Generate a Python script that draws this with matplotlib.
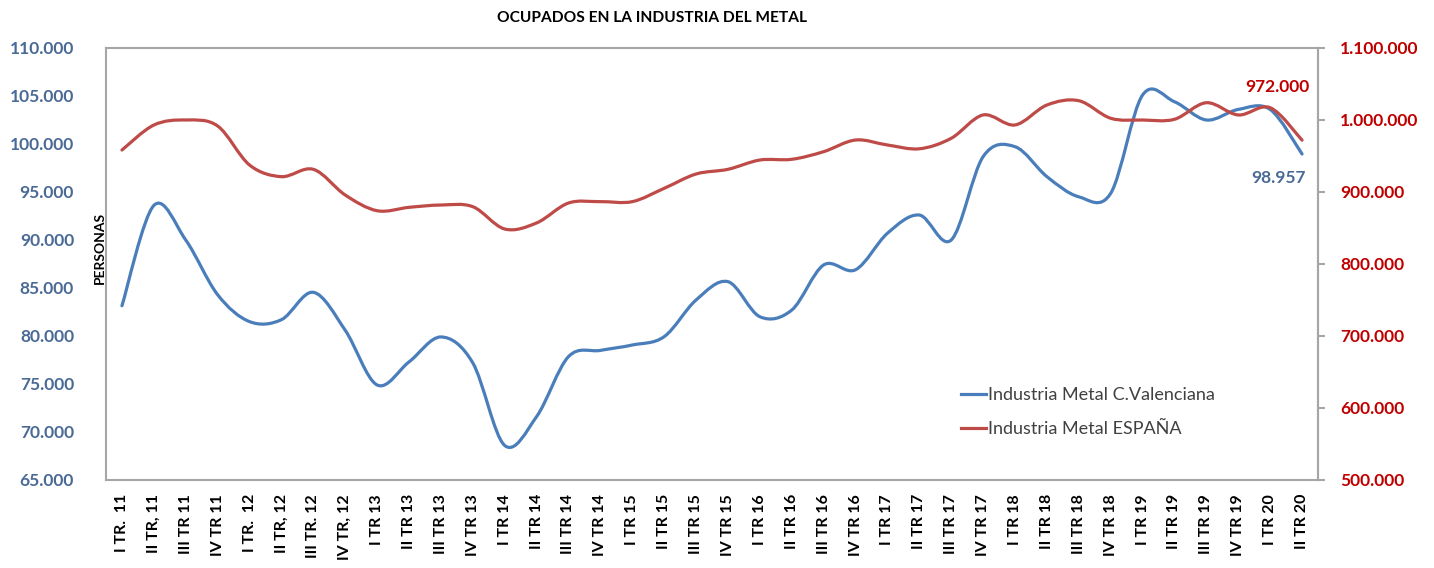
# plot.py
# Ocupados en la industria del metal: C. Valenciana (eje izq.) vs España (eje der.)

import matplotlib
matplotlib.use('Agg')
import matplotlib.pyplot as plt
from matplotlib.path import Path
from matplotlib.patches import PathPatch
from matplotlib.lines import Line2D
from matplotlib.ticker import FuncFormatter, MultipleLocator

plt.rcParams['font.family'] = ['Lato', 'DejaVu Sans']

# -----------------datos
trimestres = [
    'I TR.  11', 'II TR, 11', 'III TR 11', 'IV TR 11',
    'I TR.  12', 'II TR, 12', 'III TR. 12', 'IV TR, 12',
    'I TR 13', 'II TR 13', 'III TR 13', 'IV TR 13',
    'I TR 14', 'II TR 14', 'III TR 14', 'IV TR 14',
    'I TR 15', 'II TR 15', 'III TR 15', 'IV TR 15',
    'I TR 16', 'II TR 16', 'III TR 16', 'IV TR 16',
    'I TR 17', 'II TR 17', 'III TR 17', 'IV TR 17',
    'I TR 18', 'II TR 18', 'III TR 18', 'IV TR 18',
    'I TR 19', 'II TR 19', 'III TR 19', 'IV TR 19',
    'I TR 20', 'II TR 20',
]

valenciana = [
    83150, 93600, 90000, 84300, 81500, 81700, 84550, 80600,
    74900, 77300, 79900, 77200, 68600, 71600, 77850, 78500,
    79060, 79930, 83750, 85660, 82010, 82700, 87400, 86900,
    90700, 92600, 90000, 98680, 99720, 96600, 94500, 94860,
    105100, 104400, 102500, 103600, 103600, 98957,
]

espana = [
    958300, 993000, 1000000, 991700, 937500, 921300, 931500, 895800,
    874000, 878700, 881900, 879600, 848600, 857000, 884700, 886600,
    886600, 905100, 925000, 931500, 944400, 945400, 956000, 972200,
    965300, 960000, 974600, 1007000, 993100, 1020800, 1026800, 1002400,
    1000000, 1001000, 1024000, 1007000, 1017100, 972000,
]

AZUL = '#4A7EBB'
ROJO = '#BE4B48'
AZUL_TXT = '#4A6A96'
ROJO_TXT = '#C00000'
GRIS = '#A6A6A6'


def curva(ax, ys, color):  # línea suavizada tipo Excel (Bezier en coordenadas de datos)
    n = len(ys)
    pts = [(float(i), float(y)) for i, y in enumerate(ys)]
    verts = [pts[0]]
    codes = [Path.MOVETO]
    for i in range(n - 1):
        p0 = pts[max(i - 1, 0)]
        p1 = pts[i]
        p2 = pts[i + 1]
        p3 = pts[min(i + 2, n - 1)]
        c1 = (p1[0] + (p2[0] - p0[0]) / 6, p1[1] + (p2[1] - p0[1]) / 6)
        c2 = (p2[0] - (p3[0] - p1[0]) / 6, p2[1] - (p3[1] - p1[1]) / 6)
        verts += [c1, c2, p2]
        codes += [Path.CURVE4] * 3
    ax.add_patch(PathPatch(Path(verts, codes), facecolor='none', edgecolor=color,
                           linewidth=2.3, capstyle='round', joinstyle='round'))


def puntos(v, pos):
    return '{:,.0f}'.format(v).replace(',', '.')


# -----------------figura
fig = plt.figure(figsize=(14.34, 5.68), dpi=100, facecolor='white')
ax = fig.add_axes([106 / 1434, 1 - 480 / 568, 1212 / 1434, 432 / 568])
ax2 = ax.twinx()

x = list(range(len(trimestres)))
curva(ax, valenciana, AZUL)
curva(ax2, espana, ROJO)

ax.set_xlim(-0.5, len(trimestres) - 0.5)
ax.set_ylim(65000, 110000)
ax2.set_ylim(500000, 1100000)
ax.yaxis.set_major_locator(MultipleLocator(5000))
ax2.yaxis.set_major_locator(MultipleLocator(100000))
ax.yaxis.set_major_formatter(FuncFormatter(puntos))
ax2.yaxis.set_major_formatter(FuncFormatter(puntos))

ax.set_xticks(x)
ax.set_xticklabels(trimestres, rotation=90, fontsize=11.5, fontweight='bold', va='top')
ax.tick_params(axis='x', length=0, pad=10)
ax.tick_params(axis='y', length=0, pad=23, labelsize=12.5, labelcolor=AZUL_TXT)
for t in ax.get_yticklabels():
    t.set_fontweight('bold')
ax2.tick_params(axis='y', length=5, width=1.5, color=GRIS, pad=11,
                labelsize=12.5, labelcolor=ROJO_TXT)
for t in ax2.get_yticklabels():
    t.set_fontweight('bold')

for s in ax.spines.values():
    s.set_color(GRIS)
    s.set_linewidth(1.5)
for s in ['left', 'top', 'bottom']:
    ax2.spines[s].set_visible(False)
ax2.spines['right'].set_color(GRIS)
ax2.spines['right'].set_linewidth(1.5)

# -----------------textos
fig.text(652 / 1434, 1 - 18 / 568, 'OCUPADOS EN LA INDUSTRIA DEL METAL',
         ha='center', va='center', fontsize=11.2, fontweight='bold')
fig.text(100 / 1434, 1 - 248 / 568, 'PERSONAS', rotation=90, ha='center', va='center',
         fontsize=10, fontweight='bold')

ax2.annotate(puntos(espana[-1], None), (x[-1], espana[-1]), xytext=(-18, 38),
             textcoords='offset points', ha='center', va='center',
             color=ROJO_TXT, fontsize=12.5, fontweight='bold')
ax.annotate(puntos(valenciana[-1], None), (x[-1], valenciana[-1]), xytext=(-17, -17),
            textcoords='offset points', ha='center', va='center',
            color=AZUL_TXT, fontsize=12.5, fontweight='bold')

handles = [Line2D([], [], color=AZUL, linewidth=2.3),
           Line2D([], [], color=ROJO, linewidth=2.3)]
fig.legend(handles, ['Industria Metal C.Valenciana', 'Industria Metal ESPAÑA'],
           loc='upper left', bbox_to_anchor=(952 / 1434, 1 - 378 / 568),
           frameon=False, fontsize=13, handlelength=1.4, handletextpad=0.12,
           labelspacing=1.0, borderpad=0, labelcolor='#404040')

fig.savefig('out.png', dpi=100, facecolor='white')
